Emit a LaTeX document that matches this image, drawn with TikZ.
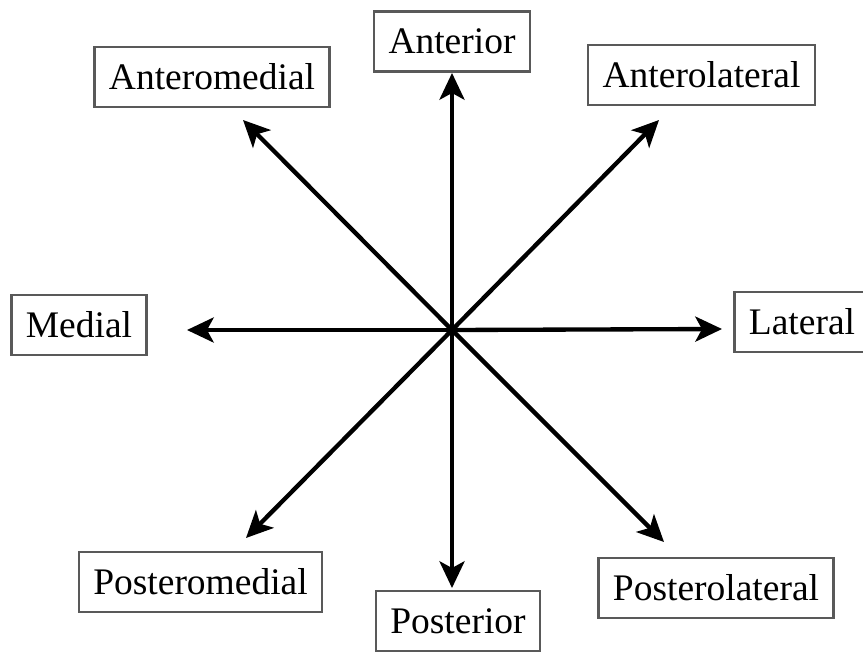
\documentclass[tikz,border=0pt]{standalone}
\usepackage{fontspec}
\setmainfont{Liberation Serif}
\usetikzlibrary{arrows.meta}

\begin{document}
\begin{tikzpicture}[
  x=0.3mm, y=-0.3mm,
  font=\fontsize{32}{38}\selectfont,
  lbl/.style={draw=black!65, line width=0.7mm, fill=white,
              minimum height=18mm, inner xsep=4.3mm, align=center},
  dirarr/.style={-{Stealth[length=8mm, width=7.5mm, inset=2mm]}, line width=1.3mm}
]
\useasboundingbox (0,0) rectangle (863,651);

% direction labels
\node[lbl] (ant)     at (452, 41.5) {Anterior};
\node[lbl] (antmed)  at (212, 77)   {Anteromedial};
\node[lbl] (antlat)  at (701.5, 75) {Anterolateral};
\node[lbl] (med)     at (79, 325)   {Medial};
\node[lbl] (lat)     at (802, 322)  {Lateral};
\node[lbl] (postmed) at (200.5, 582) {Posteromedial};
\node[lbl] (post)    at (458, 621)  {Posterior};
\node[lbl] (postlat) at (716, 588)  {Posterolateral};

% centre and arrow tips
\coordinate (c)        at (452, 330);
\coordinate (tant)     at (452, 73);
\coordinate (tantmed)  at (243, 120);
\coordinate (tantlat)  at (659, 120);
\coordinate (tmed)     at (187, 330);
\coordinate (tlat)     at (722, 329);
\coordinate (tpostmed) at (246, 538);
\coordinate (tpost)    at (452, 588);
\coordinate (tpostlat) at (664, 542);

\foreach \t in {tant, tantmed, tantlat, tmed, tlat, tpostmed, tpost, tpostlat}
  \draw[dirarr] (c) -- (\t);
\end{tikzpicture}
\end{document}
